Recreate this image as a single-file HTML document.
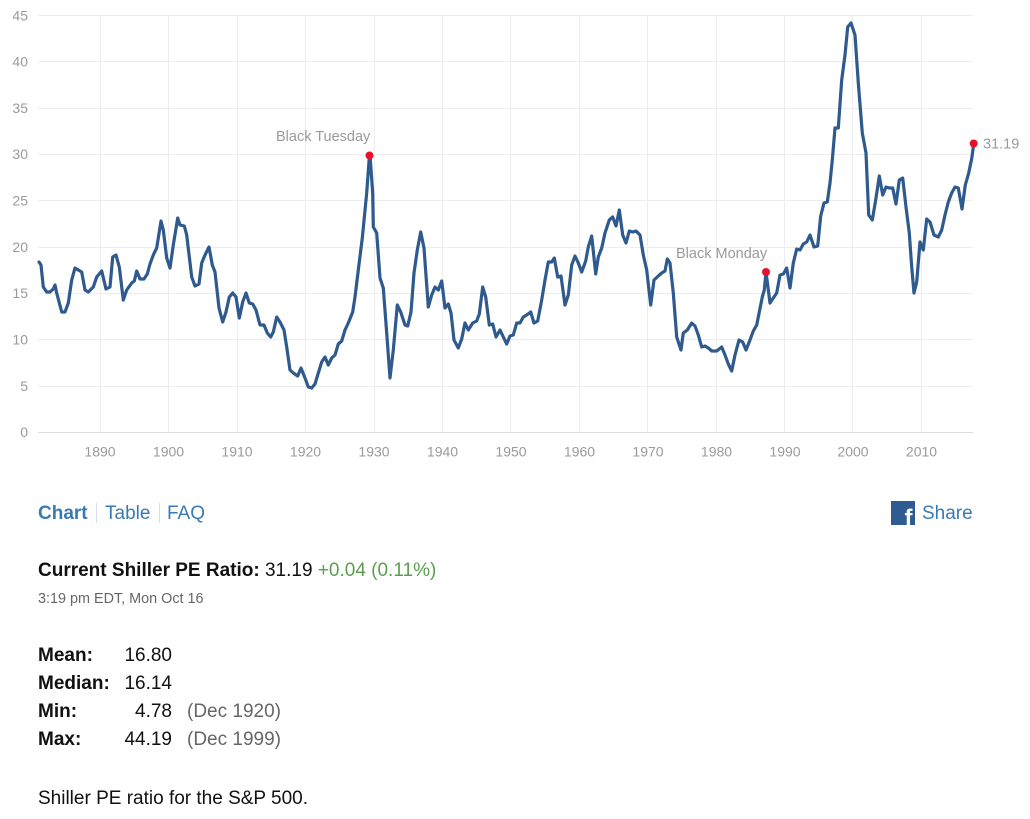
<!DOCTYPE html>
<html>
<head>
<meta charset="utf-8">
<style>
  html,body{margin:0;padding:0;background:#fff;}
  body{width:1030px;height:819px;position:relative;overflow:hidden;font-family:"Liberation Sans",Arial,sans-serif;}
  .t{position:absolute;white-space:nowrap;}
  .nav{top:503px;font-size:19px;line-height:22px;color:#3a7ab4;}
  .sep{position:absolute;width:1px;background:#d5dde6;top:503px;height:20px;}
  .big{font-size:19px;line-height:20px;color:#111;}
  .row{position:absolute;left:38px;font-size:19px;line-height:20px;color:#111;white-space:nowrap;width:400px;height:20px;}
  .row b{position:absolute;left:0;top:0;}
  .row .v{position:absolute;left:54px;top:0;text-align:right;width:80px;}
  .row .p{position:absolute;left:149px;top:0;color:#666;white-space:nowrap;}
</style>
</head>
<body>
<svg width="1030" height="470" style="position:absolute;left:0;top:0" xmlns="http://www.w3.org/2000/svg">
  <g stroke="#ededed" stroke-width="1">
    <line x1="38" y1="15.5" x2="973" y2="15.5"/>
    <line x1="38" y1="61.5" x2="973" y2="61.5"/>
    <line x1="38" y1="108.5" x2="973" y2="108.5"/>
    <line x1="38" y1="154.5" x2="973" y2="154.5"/>
    <line x1="38" y1="200.5" x2="973" y2="200.5"/>
    <line x1="38" y1="247.5" x2="973" y2="247.5"/>
    <line x1="38" y1="293.5" x2="973" y2="293.5"/>
    <line x1="38" y1="339.5" x2="973" y2="339.5"/>
    <line x1="38" y1="386.5" x2="973" y2="386.5"/>
    <line x1="100.5" y1="15" x2="100.5" y2="432"/>
    <line x1="168.5" y1="15" x2="168.5" y2="432"/>
    <line x1="237.5" y1="15" x2="237.5" y2="432"/>
    <line x1="305.5" y1="15" x2="305.5" y2="432"/>
    <line x1="374.5" y1="15" x2="374.5" y2="432"/>
    <line x1="442.5" y1="15" x2="442.5" y2="432"/>
    <line x1="510.5" y1="15" x2="510.5" y2="432"/>
    <line x1="579.5" y1="15" x2="579.5" y2="432"/>
    <line x1="647.5" y1="15" x2="647.5" y2="432"/>
    <line x1="716.5" y1="15" x2="716.5" y2="432"/>
    <line x1="784.5" y1="15" x2="784.5" y2="432"/>
    <line x1="852.5" y1="15" x2="852.5" y2="432"/>
    <line x1="921.5" y1="15" x2="921.5" y2="432"/>
  </g>
  <line x1="38" y1="432.5" x2="973" y2="432.5" stroke="#dcdcdc" stroke-width="1"/>
  <g font-family="Liberation Sans, Arial, sans-serif" font-size="14" fill="#9a9a9a" text-anchor="end">
    <text x="28" y="20.5">45</text>
    <text x="28" y="66.5">40</text>
    <text x="28" y="113">35</text>
    <text x="28" y="159">30</text>
    <text x="28" y="205.5">25</text>
    <text x="28" y="252">20</text>
    <text x="28" y="298">15</text>
    <text x="28" y="344.5">10</text>
    <text x="28" y="391">5</text>
    <text x="28" y="437">0</text>
  </g>
  <g font-family="Liberation Sans, Arial, sans-serif" font-size="14" fill="#9a9a9a" text-anchor="middle">
    <text x="100" y="456.5">1890</text>
    <text x="168.5" y="456.5">1900</text>
    <text x="237" y="456.5">1910</text>
    <text x="305.5" y="456.5">1920</text>
    <text x="374" y="456.5">1930</text>
    <text x="442.5" y="456.5">1940</text>
    <text x="511" y="456.5">1950</text>
    <text x="579.5" y="456.5">1960</text>
    <text x="648" y="456.5">1970</text>
    <text x="716.5" y="456.5">1980</text>
    <text x="785" y="456.5">1990</text>
    <text x="853" y="456.5">2000</text>
    <text x="921.5" y="456.5">2010</text>
  </g>
  <polyline fill="none" stroke="#2f5a8d" stroke-width="3.2" stroke-linejoin="round" stroke-linecap="round" points="
39,262 41,265 43.3,287 46.7,292 50,292 53.3,289 55,285 56.7,293 61.7,312 65,312 68.3,303 71.7,280 75,268 78.3,270 81.7,272 85,290 88.3,292 93.3,287 96.7,277 101.7,271 106,289 110,287 112.7,257 116,255 119.3,267 123.3,300 126.7,290 131.7,283 134.3,281 136.7,271 140,279 144,279 147.3,274 150,264 153.3,255 156.7,248 161,221 163.3,230 166.7,258 170,268 173.3,245 177.7,218 180,225 184.3,226 186.7,235 191.7,277 195,286 199,284 201.7,263 205,255 209,247 212.3,265 215,272 219,308 222.7,322 226,312 229.3,297 232.7,293 236,297 239.3,318 242.7,302 246,293 249.3,303 252.7,304 256,310 260,325 264,325 267.3,333 270.7,337 273.3,332 276.7,317 280,322 284,330 286.7,347 290,370 293.3,373 297.7,376 301,368 305,378 308.3,387 311.7,388 315,384 318.3,373 321.7,362 325,357 328.3,365 331.7,358 335,355 338.3,344 341.7,341 345,330 348.3,323
352.7,312 355,297 358.3,270 362.3,238 366.7,193 369.3,157 370,155 372.7,193 373.3,227 376.7,233 380,278 383.3,288 386.7,333 390,378 393.3,350 397.3,305 400.7,312 405,325 407.7,326 411,312 414,273 417.3,250 420.7,232 424,248 428.3,307 431.7,295 435,287 438.3,290 441.7,281 445,308 448.3,304 451,313 454,340 458.3,348 461.7,339 465,323 468.3,330 472.7,323 476.7,321 479.3,314 482.7,287 485.7,297 489.3,325 492.7,324 496,337 500,330 503.3,337 506.7,344 510,336 513.3,335 516.7,323 520,323 523.3,317 526.7,315 530.7,312 534,323 537.7,321 541.7,300 545,280 548.3,262 551.7,262 554.3,258 557.7,277 561,276 565,305 568.3,295 571.7,265 575,256 578.3,263 581.7,272 585.7,261 588.3,247 591.7,236 595.7,274 598.3,257 601.7,248 605,233 609.3,220 612.7,217 616,226 619.3,210 622.7,235 626,243 629.3,231 632.7,232 636,231 640,235 643.3,255 646.7,270 650.7,305 654,280 658.3,276 661.7,273 665,271 667.3,259 670,263 673.3,293 676.7,337 681,350 683.3,333 687.3,330 691.7,323 695,326 698.3,335 701.7,347 705,346 708.3,348 711.7,351 716.7,351 721.7,347 725,355 728.3,364 731.7,371 735,355 739,340 742.7,342 746,350 750,340 753.3,331 756.7,325 759.3,312 762.3,297 764.3,290 766,272 770,303 773.3,298 776.7,293 780,275 783.3,274 786.7,268 790,288 793.3,263 796.7,249 800,250 803.3,244 806.7,242 810,235 814,247 817.7,246 820.7,216 824,203 827.3,202 830,183 832.3,160 835,128 838.3,128 841.7,80 845,55 847.7,27 851,23 855,35 858.3,83 862.3,133 866,153 868.7,215 872.3,220 875.7,200 879.3,176 882.7,195 886,187 889.3,188 892.7,188 896,204 899.3,180 902.7,178 906,207 909.3,233 911.7,267 914,293 916.7,282 920,242 923.3,250 926.7,219 930,222 934,235 938.3,237 941.7,230 945,215 948.3,202 951.7,193 955,187 958.3,188 962,209 965.3,185 968.7,173 972,157 973.7,144"/>
  <circle cx="369.5" cy="155.5" r="4" fill="#e8112d"/>
  <circle cx="766" cy="272" r="4" fill="#e8112d"/>
  <circle cx="973.7" cy="143.5" r="4" fill="#e8112d"/>
  <g font-family="Liberation Sans, Arial, sans-serif" font-size="14.5" fill="#9a9a9a">
    <text x="276" y="141">Black Tuesday</text>
    <text x="676" y="258">Black Monday</text>
    <text x="983" y="148.5">31.19</text>
  </g>
</svg>

<div class="t nav" style="left:38px;font-weight:bold;">Chart</div>
<div class="sep" style="left:96px;"></div>
<div class="t nav" style="left:105px;">Table</div>
<div class="sep" style="left:159px;"></div>
<div class="t nav" style="left:167px;">FAQ</div>

<svg width="24" height="24" style="position:absolute;left:891px;top:501px" xmlns="http://www.w3.org/2000/svg">
  <rect x="0" y="0" width="24" height="24" fill="#2f5b93"/>
  <text x="17.5" y="25" text-anchor="middle" font-family="Liberation Sans, Arial, sans-serif" font-weight="bold" font-size="24" fill="#fff">f</text>
</svg>
<div class="t nav" style="left:922px;">Share</div>

<div class="t big" style="left:38px;top:561px;"><b>Current Shiller PE Ratio:</b> 31.19 <span style="color:#5b9e4f">+0.04 (0.11%)</span></div>
<div class="t" style="left:38px;top:591px;font-size:14.4px;line-height:16px;color:#666;">3:19 pm EDT, Mon Oct 16</div>

<div class="row" style="top:646px;"><b>Mean:</b><span class="v">16.80</span></div>
<div class="row" style="top:674px;"><b>Median:</b><span class="v">16.14</span></div>
<div class="row" style="top:702px;"><b>Min:</b><span class="v">4.78</span><span class="p">(Dec 1920)</span></div>
<div class="row" style="top:730px;"><b>Max:</b><span class="v">44.19</span><span class="p">(Dec 1999)</span></div>

<div class="t big" style="left:38px;top:789px;">Shiller PE ratio for the S&amp;P 500.</div>
</body>
</html>
